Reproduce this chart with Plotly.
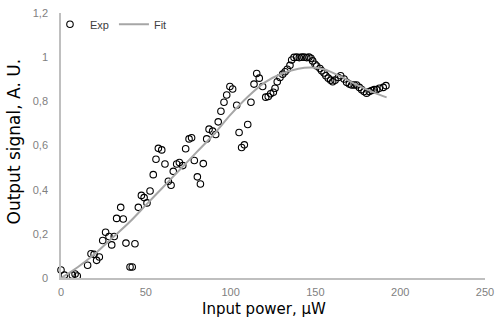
import plotly.graph_objects as go

# Experimental data (input power in µW, output signal in A.U.)
exp_x = [0, 2, 6.7, 8.3, 9.6, 15.7, 17.7, 19.5, 21, 22.6, 24.6, 26.3, 28.3, 29.9, 31.4,
         32.8, 35.2, 36.7, 38.3, 40.7, 42, 43.6, 45.6, 47.4, 49, 50.7, 52.5, 54.4, 56,
         57.4, 59.4, 61.3, 63.3, 64.9, 66.2, 68.2, 69.8, 71.8, 73.5, 75.5, 77, 78.6,
         80.4, 82.2, 83.9, 85.9, 87.3, 89.4, 91.2, 92.7, 94.3, 96.1, 97.7, 99.6, 101.2,
         103.6, 105, 106.5, 108.1, 110.1, 112, 113.8, 115.4, 116.9, 118.9, 120.7, 122.2,
         123.6, 125.2, 126.2, 127.5, 129.1, 130.7, 132.1, 133.4, 135, 136, 137.4, 139,
         140.5, 141.9, 143.3, 144.9, 146.2, 147.4, 148.4, 149.8, 150.8, 152.7, 153.7,
         155.1, 156.2, 157.6, 159, 160.2, 161.6, 163.5, 164.9, 166.9, 168.4, 170, 171.4,
         172.9, 174.3, 175.9, 177.3, 178.7, 180.2, 181.8, 183.2, 184.7, 186.1, 187.7,
         190, 191.6]
exp_y = [0.036, 0.013, 0.013, 0.018, 0.009, 0.058, 0.11, 0.107, 0.08, 0.095, 0.17, 0.207,
         0.188, 0.15, 0.188, 0.27, 0.32, 0.267, 0.158, 0.05, 0.05, 0.155, 0.32, 0.374,
         0.364, 0.34, 0.394, 0.468, 0.538, 0.587, 0.58, 0.516, 0.438, 0.42, 0.483, 0.516,
         0.523, 0.509, 0.585, 0.63, 0.635, 0.532, 0.458, 0.426, 0.518, 0.63, 0.674, 0.665,
         0.65, 0.707, 0.755, 0.796, 0.829, 0.867, 0.856, 0.782, 0.659, 0.591, 0.603, 0.695,
         0.796, 0.878, 0.926, 0.905, 0.867, 0.819, 0.822, 0.834, 0.841, 0.859, 0.889,
         0.908, 0.923, 0.934, 0.945, 0.963, 0.987, 0.999, 1.0, 0.998, 1.0, 1.0, 0.998,
         1.0, 0.995, 0.983, 0.968, 0.96, 0.949, 0.938, 0.928, 0.916, 0.905, 0.896, 0.889,
         0.896, 0.908, 0.916, 0.901, 0.886, 0.878, 0.874, 0.874, 0.874, 0.863, 0.853,
         0.844, 0.837, 0.844, 0.849, 0.853, 0.853, 0.859, 0.863, 0.871]

# Fit curve
fit_x = [0, 10, 20, 30, 40, 50, 60, 70, 80, 90, 100, 110, 120, 130, 140, 148, 155, 165,
         175, 185, 192]
fit_y = [0.0, 0.05, 0.11, 0.18, 0.25, 0.33, 0.41, 0.49, 0.57, 0.65, 0.74, 0.82, 0.885,
         0.925, 0.948, 0.953, 0.945, 0.912, 0.872, 0.838, 0.818]

x_ticks = [0, 50, 100, 150, 200, 250]
y_ticks = [0, 0.2, 0.4, 0.6, 0.8, 1.0, 1.2]

fig = go.Figure()
fig.add_trace(go.Scatter(
    x=exp_x, y=exp_y, mode="markers", name="Exp", cliponaxis=False,
    marker=dict(symbol="circle-open", size=6.5, color="#000000", line=dict(width=1.1)),
))
fig.add_trace(go.Scatter(
    x=fit_x, y=fit_y, mode="lines", name="Fit", line_shape="spline",
    line=dict(color="#a6a6a6", width=2),
))

axis_common = dict(
    showgrid=False, zeroline=False, showline=True, linecolor="#bfbfbf", linewidth=1.5,
    tickcolor="rgba(0,0,0,0)", ticks="outside", automargin=False,
    tickfont=dict(family="Liberation Sans, Arial", size=11, color="#7f7f7f"),
)

fig.update_layout(
    width=495, height=324,
    margin=dict(l=61, r=10, t=10, b=46),
    paper_bgcolor="white", plot_bgcolor="white",
    separators=",.",
    showlegend=True,
    legend=dict(orientation="h", x=-0.026, y=1.012, xanchor="left", yanchor="top",
                bgcolor="rgba(0,0,0,0)",
                font=dict(family="Liberation Sans, Arial", size=11, color="#404040")),
    xaxis=dict(range=[0, 250], tickvals=x_ticks, ticklen=3, **axis_common),
    yaxis=dict(range=[0, 1.2], tickvals=y_ticks, ticklen=9, **axis_common),
    annotations=[
        dict(text="Output signal, A. U.", xref="paper", yref="paper",
             x=0, y=0.5, xanchor="center", yanchor="middle", xshift=-48, yshift=4,
             textangle=-90, showarrow=False,
             font=dict(family="DejaVu Sans", size=17, color="#000000")),
        dict(text="Input power, \u03bcW", xref="paper", yref="paper",
             x=0.5, y=0, xanchor="center", yanchor="middle", xshift=-9, yshift=-31,
             showarrow=False,
             font=dict(family="DejaVu Sans", size=15, color="#000000")),
    ],
)

# Remove the default page margin so the 495x324 figure fills the window exactly.
fig.write_html("out.html", config={"displayModeBar": False},
               post_script="document.body.style.margin='0';document.body.style.padding='0';")
